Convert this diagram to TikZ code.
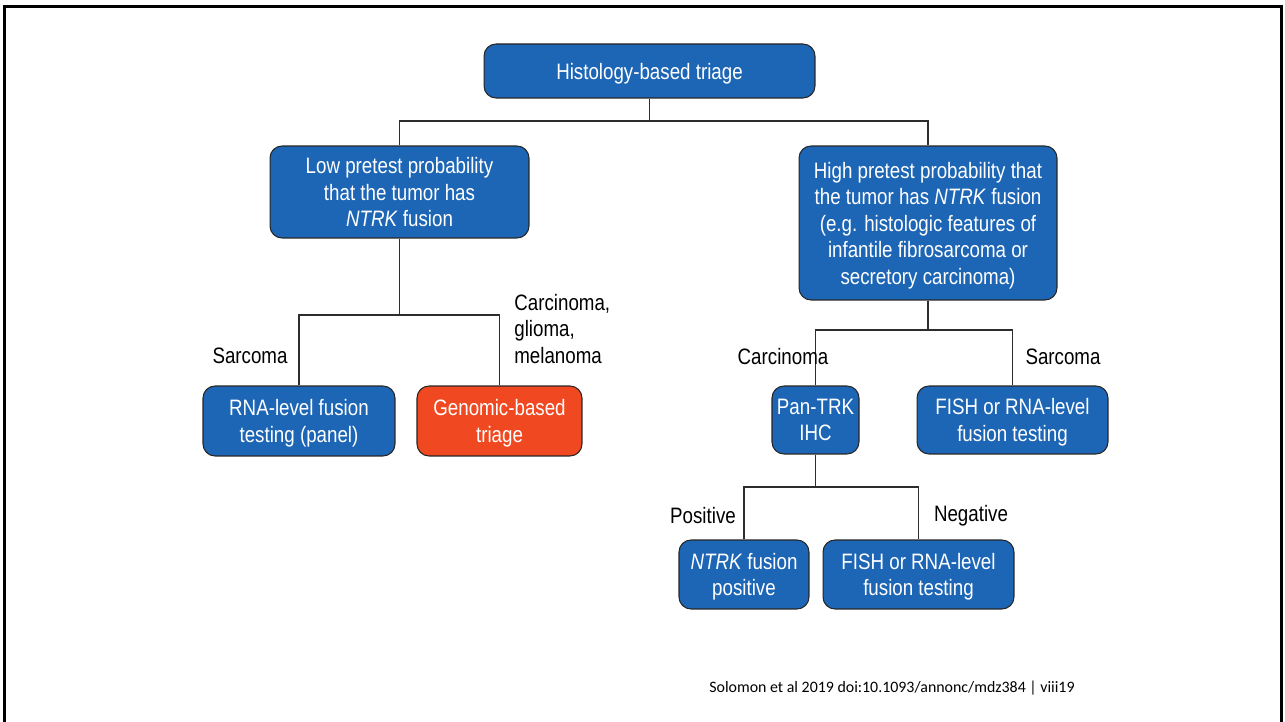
\documentclass[tikz,border=0pt]{standalone}
\usepackage{fontspec}
\setmainfont{Liberation Sans}[FakeStretch=0.84]
\newfontfamily\footfont{Carlito}
\usepackage{tikz}
\usetikzlibrary{positioning}
\definecolor{boxblue}{RGB}{29,101,181}
\definecolor{boxred}{RGB}{240,72,32}
\definecolor{linegray}{RGB}{45,45,45}

\begin{document}
\begin{tikzpicture}[x=0.02cm,y=-0.02cm,
  bluebox/.style={draw=black!85,line width=0.6pt,fill=boxblue,rounded corners=0.24cm,
    text=white,align=center,inner sep=2pt,text depth=0pt,font=\fontsize{12.7}{15.1}\selectfont},
  redbox/.style={bluebox,fill=boxred},
  lbl/.style={font=\fontsize{12.7}{15.1}\selectfont,inner sep=0pt},
  conn/.style={draw=linegray,line width=0.6pt}]
\useasboundingbox (0,0) rectangle (1285,722);
% frame
\draw[line width=1.7pt] (4.5,722) -- (4.5,6.5) -- (1281,6.5) -- (1281,722);

% Top
\node[bluebox,minimum width=6.62cm,minimum height=1.08cm] (top) at (649.5,71) {Histology-based triage};
\node[bluebox,minimum width=5.18cm,minimum height=1.84cm] (low) at (399.5,192)
  {Low pretest probability\\that the tumor has\\\textit{NTRK} fusion};
\node[bluebox,minimum width=5.16cm,minimum height=3.08cm] (high) at (928,223)
  {High pretest probability that\\the tumor has \textit{NTRK} fusion\\(e.g. histologic features of\\infantile fibrosarcoma or\\secretory carcinoma)};
\coordinate (j1) at (649.5,121);
\draw[conn] (top.south) -- (j1);
\draw[conn] (low.north) |- (j1) -| (high.north);

% Low branch
\node[bluebox,minimum width=3.84cm,minimum height=1.40cm] (rna) at (299,421) {RNA-level fusion\\testing (panel)};
\node[redbox,minimum width=3.30cm,minimum height=1.40cm] (genomic) at (499.5,421) {Genomic-based\\triage};
\coordinate (j2) at (399.5,315);
\draw[conn] (low.south) -- (j2);
\draw[conn] (rna.north) |- (j2) -| (genomic.north);
\node[lbl] (sarcA) at (250,356) {Sarcoma};
\node[lbl,anchor=west,align=left] (carcA) at (514,329) {Carcinoma,\\glioma,\\melanoma};

% High branch
\node[bluebox,minimum width=1.74cm,minimum height=1.36cm] (pantrk) at (815.5,420) {Pan-TRK\\IHC};
\node[bluebox,minimum width=3.82cm,minimum height=1.36cm] (fishA) at (1012.5,420) {FISH or RNA-level\\fusion testing};
\coordinate (j3) at (928,330);
\draw[conn] (high.south) -- (j3);
\draw[conn] (pantrk.north) |- (j3) -| (fishA.north);
\node[lbl] (carcB) at (783,357) {Carcinoma};
\node[lbl] (sarcB) at (1063,357) {Sarcoma};

% IHC result
\node[bluebox,minimum width=2.60cm,minimum height=1.38cm] (ntrkpos) at (744,574.5) {\textit{NTRK} fusion\\positive};
\node[bluebox,minimum width=3.82cm,minimum height=1.38cm] (fishB) at (918.5,574.5) {FISH or RNA-level\\fusion testing};
\coordinate (j4) at (815.5,487);
\draw[conn] (pantrk.south) -- (j4);
\draw[conn] (ntrkpos.north) |- (j4) -| (fishB.north);
\node[lbl] (pos) at (703,516) {Positive};
\node[lbl] (neg) at (971,516) {Negative};

% source
\node[inner sep=0pt,font=\footfont\fontsize{9.05}{10}\selectfont] (src) at (892,688)
  {Solomon et al 2019 doi:10.1093/annonc/mdz384 | viii19};
\end{tikzpicture}
\end{document}
